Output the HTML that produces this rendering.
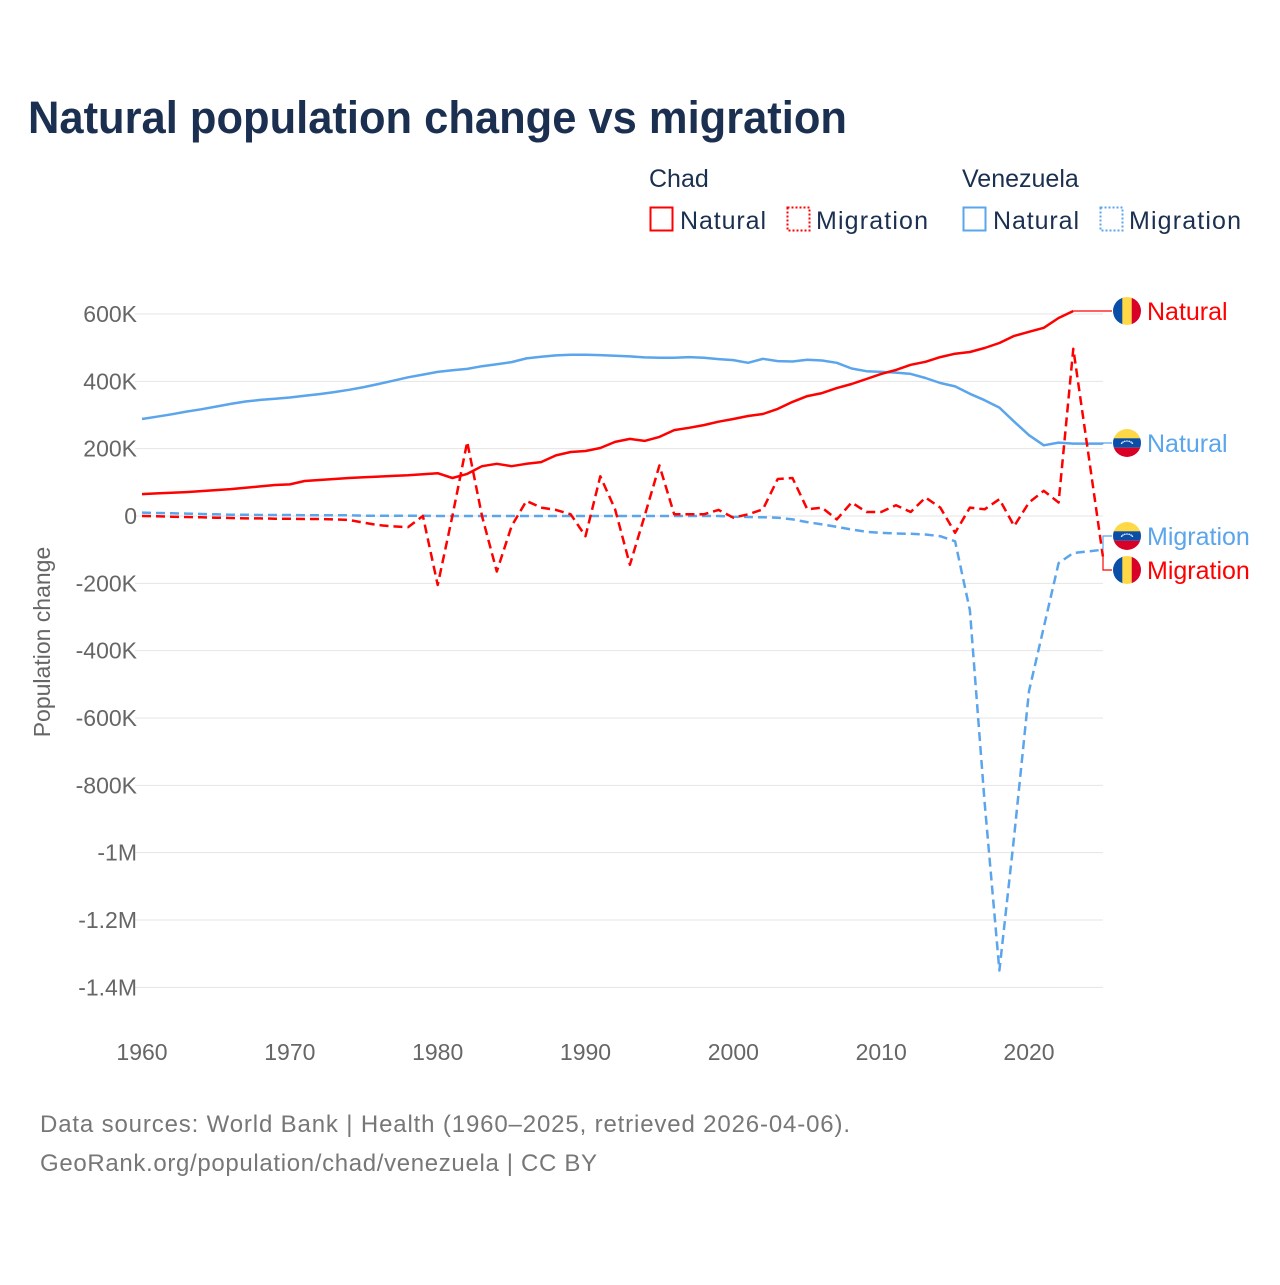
<!DOCTYPE html>
<html><head><meta charset="utf-8"><style>
body{margin:0;background:#fff;font-family:"Liberation Sans",sans-serif}
svg text{font-family:"Liberation Sans",sans-serif}
</style></head><body>
<svg id="chart" width="1280" height="1280" xmlns="http://www.w3.org/2000/svg">
<rect width="1280" height="1280" fill="#fff"/>
<text x="28" y="133" font-size="45" font-weight="bold" fill="#1b2f50" textLength="819" lengthAdjust="spacingAndGlyphs">Natural population change vs migration</text>
<g font-size="25" fill="#1b2f50">
<text x="649" y="187">Chad</text>
<text x="962" y="187">Venezuela</text>
<g><rect x="650.5" y="207.5" width="22" height="23" fill="none" stroke="#ff0000" stroke-width="2"/><text x="680" y="229" textLength="86">Natural</text></g>
<g><rect x="787.5" y="207.5" width="22" height="23" fill="none" stroke="#ff0000" stroke-width="2" stroke-dasharray="2,2"/><text x="816" y="229" textLength="112">Migration</text></g>
<g><rect x="963.5" y="207.5" width="22" height="23" fill="none" stroke="#5aa5ec" stroke-width="2"/><text x="993" y="229" textLength="86">Natural</text></g>
<g><rect x="1100.5" y="207.5" width="22" height="23" fill="none" stroke="#5aa5ec" stroke-width="2" stroke-dasharray="2,2"/><text x="1129" y="229" textLength="112">Migration</text></g>
</g>
<text transform="translate(50,642) rotate(-90)" text-anchor="middle" font-size="23" fill="#666">Population change</text>
<g id="grid"></g><g id="series"></g><g id="labels"></g>
<text x="40" y="1132" font-size="24" fill="#777" textLength="810">Data sources: World Bank | Health (1960–2025, retrieved 2026-04-06).</text>
<text x="40" y="1171" font-size="24" fill="#777" textLength="557">GeoRank.org/population/chad/venezuela | CC BY</text>
<defs>
<clipPath id="cc"><circle cx="0" cy="0" r="14"/></clipPath>
</defs>
</svg>
<script>
const years=[];for(let y=1960;y<=2025;y++)years.push(y);
const yTicks=[600000,400000,200000,0,-200000,-400000,-600000,-800000,-1000000,-1200000,-1400000];
const yTickLabels=["600K","400K","200K","0","-200K","-400K","-600K","-800K","-1M","-1.2M","-1.4M"];
const xTicks=[1960,1970,1980,1990,2000,2010,2020];
// values in thousands
const chadNatural=[65,67,69,71,74,77,80,84,88,92,94,104,107,110,113,115,117,119,121,124,127,113,125,148,155,148,155,160,180,190,193,202,220,229,223,235,255,262,270,280,288,297,303,318,339,356,365,380,392,407,422,434,449,458,472,482,487,499,514,535,547,559,588,609];
const chadMigration=[0,-1,-2,-3,-4,-5,-6,-7,-7,-8,-8,-9,-9,-10,-12,-20,-27,-31,-33,0,-205,0,220,0,-165,-30,45,25,18,5,-60,118,20,-145,0,150,5,5,5,18,-5,5,20,110,113,20,25,-10,40,12,12,32,12,55,25,-50,25,20,50,-30,40,75,40,497,190,-120];
const venNatural=[288,295,302,310,317,325,333,340,345,348,352,357,362,368,375,383,392,402,412,420,428,433,437,445,451,457,468,473,477,479,479,478,476,474,471,470,470,472,470,466,463,455,467,460,459,464,462,455,438,430,428,426,422,410,395,385,363,344,322,280,240,210,218,215,215,215];
const venMigration=[10,9,8,7,6,5,4,4,3,3,3,2,2,2,2,1,1,1,1,1,0,0,0,0,0,0,0,0,0,0,0,0,0,0,0,0,0,0,0,0,-2,-3,-4,-5,-10,-18,-25,-32,-40,-47,-50,-52,-53,-55,-60,-75,-280,-850,-1350,-950,-520,-330,-140,-110,-105,-100];
const X=y=>142+(y-1960)*(887/60);
const Y=v=>516-v*(202/600000);
const NS="http://www.w3.org/2000/svg";
function mk(tag,attrs,parent){const e=document.createElementNS(NS,tag);for(const k in attrs)e.setAttribute(k,attrs[k]);parent.appendChild(e);return e;}
const grid=document.getElementById('grid');
yTicks.forEach((t,i)=>{
 const l=mk('line',{x1:135,x2:1103,y1:Y(t),y2:Y(t),stroke:'#e4e4e4','stroke-width':1},grid);
 
 
 const tx=mk('text',{x:137,y:Y(t)+8,'text-anchor':'end','font-size':23,fill:'#666'},grid);
 tx.textContent=yTickLabels[i];
 
 
});
xTicks.forEach(t=>{
 const tx=mk('text',{x:X(t),y:1060,'text-anchor':'middle','font-size':23,fill:'#666'},grid);
 tx.textContent=t;
 
 
});
const ser=document.getElementById('series');
function line(arr,color,dash,name){
 const d=arr.map((v,i)=>(i?'L':'M')+X(years[i]).toFixed(1)+','+Y(v*1000).toFixed(1)).join('');
 const p=mk('path',{d:d,fill:'none',stroke:color,'stroke-width':2.5,'stroke-linejoin':'round'},ser);
 if(dash)p.setAttribute('stroke-dasharray','9,5');
 
 
}
line(venNatural,'#5aa5ec',false,'venezuela-natural-line');
line(venMigration,'#5aa5ec',true,'venezuela-migration-line');
line(chadNatural,'#ff0000',false,'chad-natural-line');
line(chadMigration,'#ff0000',true,'chad-migration-line');
const lab=document.getElementById('labels');
function flag(cx,cy,type){
 const g=mk('g',{transform:`translate(${cx},${cy})`,'clip-path':'url(#cc)'},lab);
 if(type==='chad'){mk('rect',{x:-14,y:-14,width:10,height:28,fill:'#0a4ea8'},g);mk('rect',{x:-4.7,y:-14,width:9.4,height:28,fill:'#fed945'},g);mk('rect',{x:4.7,y:-14,width:10,height:28,fill:'#d80027'},g);}
 else{mk('rect',{x:-14,y:-14,width:28,height:9.5,fill:'#fed945'},g);mk('rect',{x:-14,y:-4.7,width:28,height:9.4,fill:'#0a4ea8'},g);mk('rect',{x:-14,y:4.7,width:28,height:10,fill:'#d80027'},g);
  for(let k=0;k<7;k++){const a=Math.PI*(0.15+0.7*k/6);mk('circle',{cx:-Math.cos(a)*6,cy:2-Math.sin(a)*4,r:0.8,fill:'#fff'},g);}}
 
 
}
function endLabel(lastX,lastY,ly,color,type,txt,name){
 mk('path',{d:`M${lastX},${lastY}L1103,${lastY}L1103,${ly}L1112,${ly}`,fill:'none',stroke:color,'stroke-width':1.2},lab);
 flag(1127,ly,type);
 const t=mk('text',{x:1147,y:ly+9,'font-size':25,fill:color},lab);
 t.textContent=txt;
 
 
}
endLabel(X(2023),Y(chadNatural[chadNatural.length-1]*1000),311,'#ff0000','chad','Natural','chad-natural-label');
endLabel(X(2025),Y(venNatural[venNatural.length-1]*1000),443,'#5aa5ec','venezuela','Natural','venezuela-natural-label');
endLabel(X(2025),Y(venMigration[venMigration.length-1]*1000),536,'#5aa5ec','venezuela','Migration','venezuela-migration-label');
endLabel(X(2025),Y(chadMigration[chadMigration.length-1]*1000),570,'#ff0000','chad','Migration','chad-migration-label');
</script>
</body></html>
